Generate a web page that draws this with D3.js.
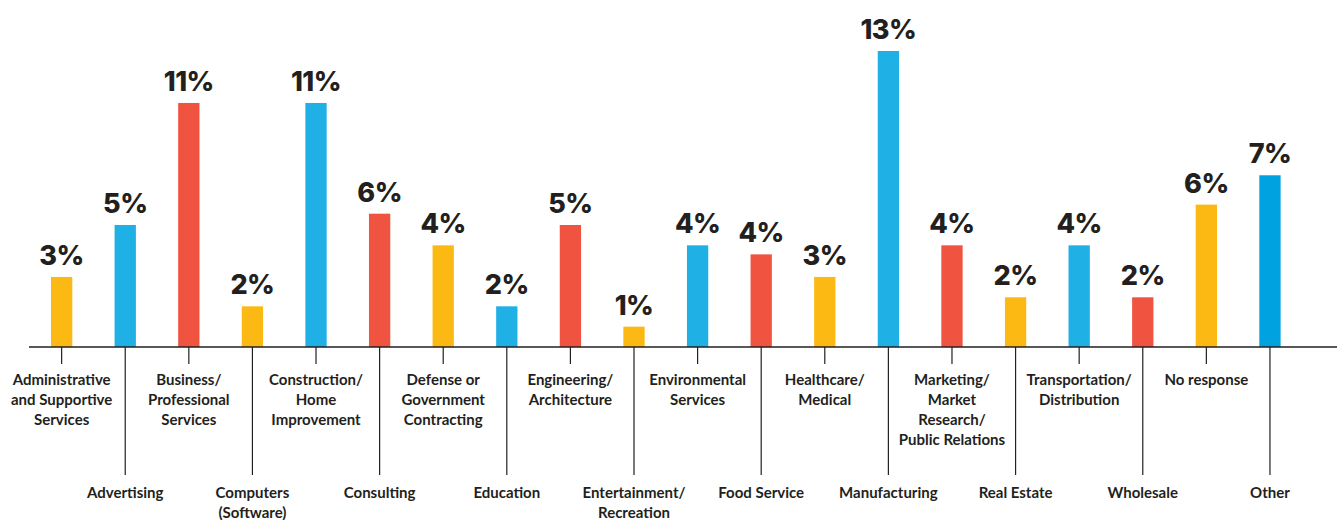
<!DOCTYPE html>
<html>
<head>
<meta charset="utf-8">
<script src="https://cdn.jsdelivr.net/npm/d3@7"></script>
<style>
  body { margin: 0; background: #fff; }
  svg { display: block; }
  .pct { font-family: Inter, sans-serif; font-weight: 800; font-size: 27px; fill: #231f20; letter-spacing: -0.5px; }
  .cat { font-family: Lato, sans-serif; font-weight: 700; font-size: 15px; fill: #231f20; }
</style>
</head>
<body>
<svg id="chart" width="1337" height="520"></svg>
<script>
const categories = [
  ["Administrative", "and Supportive", "Services"],
  ["Advertising"],
  ["Business/", "Professional", "Services"],
  ["Computers", "(Software)"],
  ["Construction/", "Home", "Improvement"],
  ["Consulting"],
  ["Defense or", "Government", "Contracting"],
  ["Education"],
  ["Engineering/", "Architecture"],
  ["Entertainment/", "Recreation"],
  ["Environmental", "Services"],
  ["Food Service"],
  ["Healthcare/", "Medical"],
  ["Manufacturing"],
  ["Marketing/", "Market", "Research/", "Public Relations"],
  ["Real Estate"],
  ["Transportation/", "Distribution"],
  ["Wholesale"],
  ["No response"],
  ["Other"]
];

// bar heights, in percent
const values = [3.1, 5.4, 10.8, 1.8, 10.8, 5.9, 4.5, 1.8, 5.4, 0.9,
                4.5, 4.1, 3.1, 13.1, 4.5, 2.2, 4.5, 2.2, 6.3, 7.6];
const labels = ["3%", "5%", "11%", "2%", "11%", "6%", "4%", "2%", "5%", "1%",
                "4%", "4%", "3%", "13%", "4%", "2%", "4%", "2%", "6%", "7%"];

const palette = ["#fdb913", "#1fb0e6", "#f05441"];
const otherColor = "#00a3e0";

const svg = d3.select("#chart");
const baseline = 347;

const x = d3.scaleBand()
  .domain(d3.range(categories.length))
  .range([30, 1301.6])
  .paddingInner(0.665)
  .paddingOuter(0.33);

const y = d3.scaleLinear()
  .domain([0, 13.1])
  .range([baseline, 51]);

const center = (i) => x(i) + x.bandwidth() / 2;

svg.selectAll("rect.bar")
  .data(values)
  .enter()
  .append("rect")
  .attr("class", "bar")
  .attr("x", (d, i) => x(i))
  .attr("y", (d) => y(d))
  .attr("width", x.bandwidth())
  .attr("height", (d) => baseline - y(d))
  .attr("fill", (d, i) => i === values.length - 1 ? otherColor : palette[i % 3]);

svg.selectAll("text.pct")
  .data(values)
  .enter()
  .append("text")
  .attr("class", "pct")
  .attr("text-anchor", "middle")
  .attr("x", (d, i) => center(i))
  .attr("y", (d) => y(d) - 12)
  .text((d, i) => labels[i]);

// baseline
svg.append("line")
  .attr("x1", 29).attr("x2", 1337)
  .attr("y1", baseline).attr("y2", baseline)
  .attr("stroke", "#231f20")
  .attr("stroke-width", 1.5);

// leader ticks: short for even, long for odd
const tickEnd = (i) => i % 2 === 0 ? 364 : 475;
const firstLine = (i) => i % 2 === 0 ? 385 : 498;

svg.selectAll("line.tick")
  .data(categories)
  .enter()
  .append("line")
  .attr("class", "tick")
  .attr("x1", (d, i) => center(i))
  .attr("x2", (d, i) => center(i))
  .attr("y1", baseline)
  .attr("y2", (d, i) => tickEnd(i))
  .attr("stroke", "#231f20")
  .attr("stroke-width", 1.2);

const catText = svg.selectAll("text.cat")
  .data(categories)
  .enter()
  .append("text")
  .attr("class", "cat")
  .attr("text-anchor", "middle")
  .attr("x", (d, i) => center(i))
  .attr("y", (d, i) => firstLine(i));

catText.selectAll("tspan")
  .data((d, i) => d.map((line) => ({ line, i })))
  .enter()
  .append("tspan")
  .attr("x", (d) => center(d.i))
  .attr("dy", (d, j) => j === 0 ? 0 : 20)
  .text((d) => d.line);
</script>
</body>
</html>
